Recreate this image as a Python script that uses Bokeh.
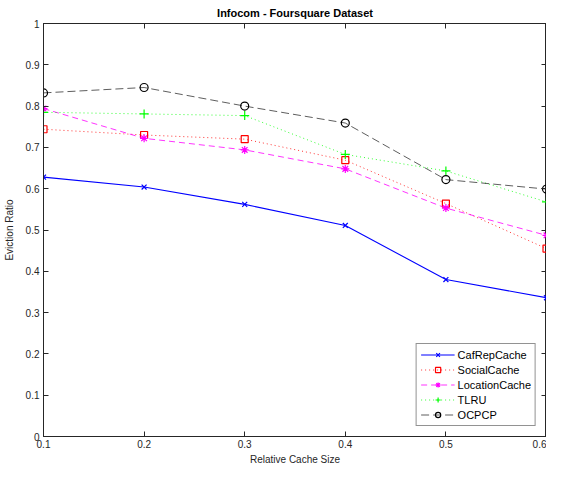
from bokeh.plotting import figure
from bokeh.models import LinearAxis, FixedTicker, Range1d, Legend, LegendItem
from bokeh.embed import file_html
from bokeh.resources import INLINE

# ---- data ----
cache_size = [0.1, 0.2, 0.3, 0.4, 0.5, 0.6]
caf_rep_cache = [0.628, 0.604, 0.562, 0.511, 0.380, 0.336]
social_cache = [0.744, 0.730, 0.720, 0.669, 0.564, 0.455]
location_cache = [0.794, 0.722, 0.694, 0.648, 0.553, 0.487]
tlru = [0.785, 0.781, 0.777, 0.683, 0.643, 0.568]
ocpcp = [0.832, 0.845, 0.800, 0.759, 0.622, 0.599]

x_ticks = [0.1, 0.2, 0.3, 0.4, 0.5, 0.6]
y_ticks = [0, 0.1, 0.2, 0.3, 0.4, 0.5, 0.6, 0.7, 0.8, 0.9, 1.0]
y_tick_labels = ["0", "0.1", "0.2", "0.3", "0.4", "0.5", "0.6", "0.7", "0.8", "0.9", "1"]
x_tick_labels = ["0.1", "0.2", "0.3", "0.4", "0.5", "0.6"]

FONT = "Liberation Sans"
AX = "#262626"

p = figure(width=546, height=467, output_backend="svg", toolbar_location=None,
           x_range=Range1d(0.1, 0.6), y_range=Range1d(0, 1),
           min_border_left=41, min_border_right=0, min_border_top=7, min_border_bottom=0)

p.title.text = "Infocom - Foursquare Dataset"
p.title.align = "center"
p.title.text_font = FONT
p.title.text_font_size = "11px"
p.title.text_font_style = "bold"
p.title.text_color = "#000000"
p.title.standoff = 9

p.grid.visible = False
p.outline_line_color = AX
p.outline_line_width = 1

def style_axis(ax, labels=True):
    ax.major_tick_in = 5
    ax.major_tick_out = 0
    ax.minor_tick_in = 0
    ax.minor_tick_out = 0
    ax.axis_line_color = AX
    ax.major_tick_line_color = AX
    ax.major_label_text_font = FONT
    ax.major_label_text_font_size = "10px"
    ax.major_label_text_color = AX if labels else None
    ax.axis_label_text_font = FONT
    ax.axis_label_text_font_size = "10px"
    ax.axis_label_text_font_style = "normal"
    ax.axis_label_text_color = AX

xax = p.xaxis[0]
yax = p.yaxis[0]
xax.ticker = FixedTicker(ticks=x_ticks)
yax.ticker = FixedTicker(ticks=y_ticks)
xax.major_label_overrides = {t: l for t, l in zip(x_ticks, x_tick_labels)}
yax.major_label_overrides = {t: l for t, l in zip(y_ticks, y_tick_labels)}
xax.axis_label = "Relative Cache Size"
yax.axis_label = "Eviction Ratio"
style_axis(xax)
style_axis(yax)
xax.major_label_standoff = 3
yax.major_label_standoff = 4
xax.axis_label_standoff = 3
yax.axis_label_standoff = 8

rax = LinearAxis(ticker=FixedTicker(ticks=y_ticks))
tax = LinearAxis(ticker=FixedTicker(ticks=x_ticks))
style_axis(rax, labels=False)
style_axis(tax, labels=False)
for a in (rax, tax):
    a.major_label_text_font_size = "0px"
    a.major_label_standoff = 0
    a.major_label_overrides = {t: "" for t in (y_ticks if a is rax else x_ticks)}
p.add_layout(rax, "right")
p.add_layout(tax, "above")

series = [
    ("CafRepCache", caf_rep_cache, "#0000ff", "solid", "x", 7, 1.1),
    ("SocialCache", social_cache, "#ff0000", "1 3", "square", 7, 1.0),
    ("LocationCache", location_cache, "#ff00ff", "6 4", "asterisk", 8, 1.0),
    ("TLRU", tlru, "#00ff00", "1 3", "cross", 9, 1.0),
    ("OCPCP", ocpcp, "#000000", "8 4", "circle", 8, 0.8),
]

items = []
for name, ys, color, dash, marker, size, lw in series:
    ln = p.line(cache_size, ys, line_color=color, line_dash=dash, line_width=lw,
                line_alpha=0.8 if color != "#0000ff" else 1.0)
    mk = p.scatter(cache_size, ys, marker=marker, size=size, line_color=color,
                   fill_color=None, line_width=1.2)
    items.append(LegendItem(label=name, renderers=[ln, mk]))

legend = Legend(items=items, location="bottom_right")
legend.label_text_font = FONT
legend.label_text_font_size = "11px"
legend.label_text_color = "#000000"
legend.border_line_color = AX
legend.border_line_width = 1
legend.background_fill_color = "white"
legend.background_fill_alpha = 1
legend.glyph_width = 34
legend.glyph_height = 13
legend.label_height = 13
legend.spacing = 2
legend.padding = 4
legend.margin = 10
legend.label_standoff = 3
p.add_layout(legend)

open("out.html", "w").write(file_html(p, INLINE))
